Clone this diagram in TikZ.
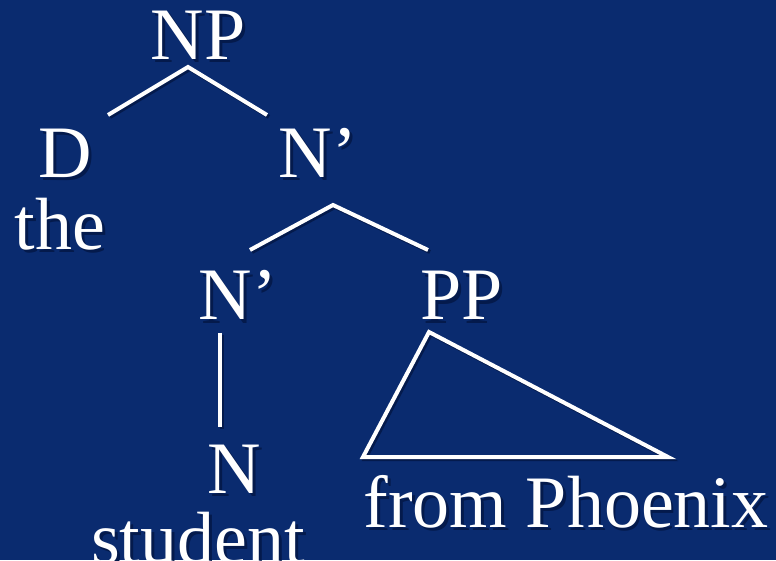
\documentclass[tikz,border=0pt]{standalone}
\usepackage{fontspec}
\setmainfont{Liberation Serif}
\usepackage{xcolor}
\usepackage{tikz}
\usetikzlibrary{calc,positioning}
\definecolor{bgc}{HTML}{0A2B6F}
\definecolor{shdc}{HTML}{041A4C}
\newcommand{\shtxt}[1]{\rlap{\hspace{3pt}\raisebox{-3pt}{\textcolor{shdc}{#1}}}#1}
\tikzset{
  lab/.style={text=white,inner sep=0pt,anchor=base,font=\fontsize{74}{80}\selectfont},
  branch/.style={white,line width=4pt,preaction={draw=shdc,line width=4pt,transform canvas={shift={(2pt,-2pt)}}}}
}

\begin{document}
\begin{tikzpicture}[x=1pt,y=1pt]
\useasboundingbox (0,0) rectangle (776,560);
\fill[bgc] (0,0) rectangle (776,560);
% labels
\node[lab] (np) at (198,500) {\shtxt{NP}};
\node[lab] (d) at (65,382) {\shtxt{D}};
\node[lab] (the) at (60,310) {\shtxt{the}};
\node[lab] (nbar) at (318,382) {\shtxt{N’}};
\node[lab] (nbarlow) at (238,240) {\shtxt{N’}};
\node[lab] (pp) at (462,240) {\shtxt{PP}};
\node[lab] (n) at (234,67) {\shtxt{N}};
\node[lab] (student) at (198,-3) {\shtxt{student}};
\node[lab] (phoenix) at (566,33) {\shtxt{from Phoenix}};
% branch ends
\coordinate (np-foot) at ($(np.base)+(-10,-7)$);
\coordinate (d-top) at ($(d.base)+(43,63)$);
\coordinate (nbar-top) at ($(nbar.base)+(-51,63)$);
\coordinate (nbar-foot) at ($(nbar.base)+(15,-27)$);
\coordinate (nbarlow-top) at ($(nbarlow.base)+(12,70)$);
\coordinate (nbarlow-foot) at ($(nbarlow.base)+(-18,-13)$);
\coordinate (pp-top) at ($(pp.base)+(-34,70)$);
\coordinate (pp-foot) at ($(pp.base)+(-33,-12)$);
\coordinate (n-top) at ($(n.base)+(-14,66)$);
\coordinate (tri-l) at ($(phoenix.base)+(-203,70)$);
\coordinate (tri-r) at ($(phoenix.base)+(102,70)$);
% tree
\draw[branch] (d-top) -- (np-foot) -- (nbar-top);
\draw[branch] (nbarlow-top) -- (nbar-foot) -- (pp-top);
\draw[branch] (nbarlow-foot) -- (n-top);
\draw[branch,line join=miter] (pp-foot) -- (tri-l) -- (tri-r) -- cycle;
\end{tikzpicture}
\end{document}
